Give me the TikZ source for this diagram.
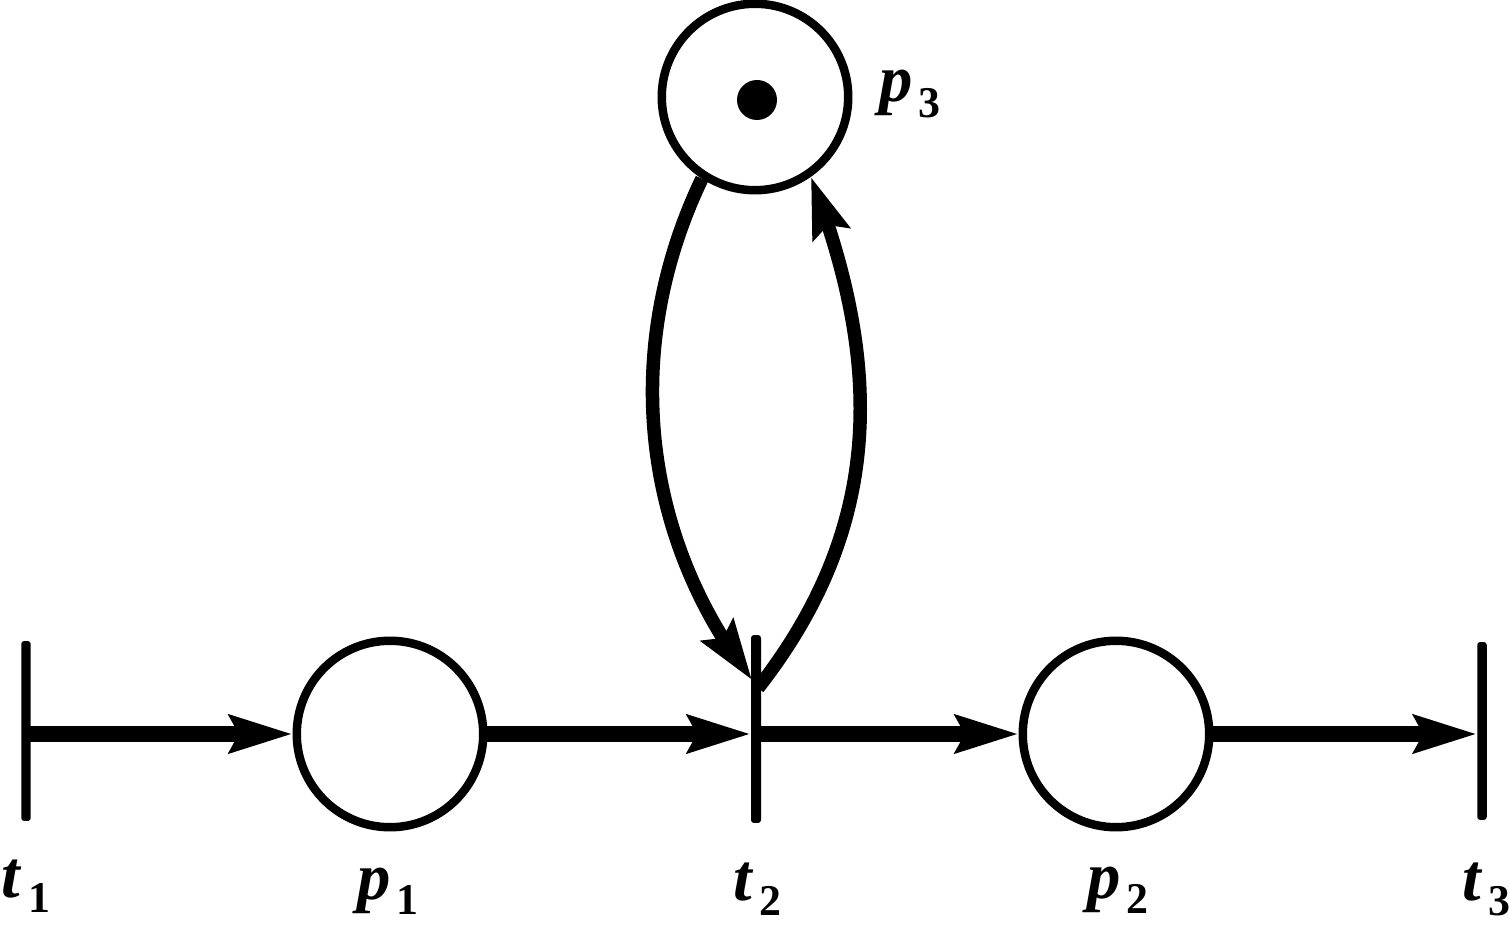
\documentclass[tikz,border=0pt]{standalone}
\usepackage{fontspec}
\setmainfont{Liberation Serif}
\usetikzlibrary{arrows.meta,bending,calc}
\newcommand{\pnlabel}[2]{\fontsize{38}{40}\selectfont\textbf{\textit{#1}}\kern0.12cm\raisebox{-0.31cm}{\fontsize{25}{27}\selectfont\textbf{#2}}}
\begin{document}
\begin{tikzpicture}[x=0.02cm,y=-0.02cm,
  place/.style={circle, draw, line width=0.17cm, minimum size=3.73cm, inner sep=0pt},
  trans/.style={rectangle, fill, minimum width=0.19cm, minimum height=3.6cm, inner sep=0pt, rounded corners=0.06cm},
  tokendot/.style={circle, fill, minimum size=0.8cm, inner sep=0pt},
  flow/.style={line width=0.31cm, -{Stealth[length=1.25cm,width=0.74cm,inset=0.18cm]}},
  flowc/.style={line width=0.27cm, -{Stealth[length=1.2cm,width=0.76cm,inset=0.18cm]}},
  lbl/.style={anchor=base west, inner sep=0pt, outer sep=0pt}]
\useasboundingbox (0,0) rectangle (1509,925);
% places
\node[place] (p1) at (390,734) {};
\node[place] (p2) at (1116,734) {};
\node[place] (p3) at (755,97) {};
\node[tokendot] (tok) at (757,100) {};
% transitions
\node[trans] (t1) at (26,731) {};
\node[trans, minimum width=0.2cm, minimum height=3.76cm] (t2) at (756,729) {};
\node[trans, minimum height=3.56cm] (t3) at (1482,731) {};
% horizontal arcs
\draw[flow] (t1.center |- p1.west) -- (p1.west);
\draw[flow] (p1.east) -- (p1.east -| t2.west);
\draw[flow] (p2.west -| t2.center) -- (p2.west);
\draw[flow] (p2.east) -- (p2.east -| t3.west);
% loop with p3
\coordinate (t2in) at ($(t2.center)+(-4,-49)$);
\coordinate (t2out) at ($(t2.center)+(2,-41)$);
\draw[flowc] (p3.237) .. controls (620,350) and (642,538) .. (t2in);
\draw[flowc] (t2out) .. controls (891,518) and (878,352) .. (p3.305);
% labels
\node[lbl] (lt1) at (2,897) {\pnlabel{t}{1}};
\node[lbl] (lp1) at (357,899) {\pnlabel{p}{1}};
\node[lbl] (lt2) at (733,900) {\pnlabel{t}{2}};
\node[lbl] (lp2) at (1087,898) {\pnlabel{p}{2}};
\node[lbl] (lt3) at (1462,900) {\pnlabel{t}{3}};
\node[lbl] (lp3) at (879,102) {\pnlabel{p}{3}};
\end{tikzpicture}
\end{document}
